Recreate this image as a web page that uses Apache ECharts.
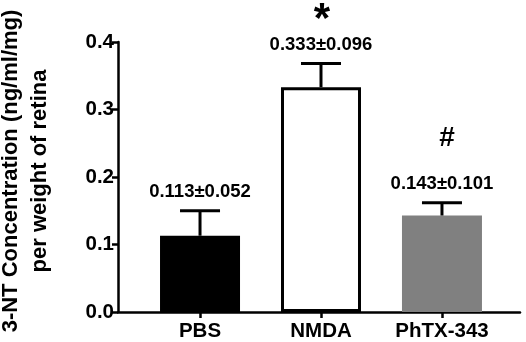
<!DOCTYPE html>
<html>
<head>
<meta charset="utf-8">
<script src="https://cdn.jsdelivr.net/npm/echarts@6/dist/echarts.min.js"></script>
<style>
  html, body { margin: 0; padding: 0; background: #fff; }
  #chart { width: 526px; height: 342px; }
</style>
</head>
<body>
<div id="chart"></div>
<script>
const groups = ['PBS', 'NMDA', 'PhTX-343'];
const means = [0.113, 0.333, 0.143];
const sds = [0.052, 0.096, 0.101];        // printed in the labels
const errBars = [0.037, 0.035, 0.019];    // drawn upper error bars
const sigMarks = ['', '*', '#'];
const barColors = ['#000000', '#ffffff', '#808080'];

const FONT = "'Liberation Sans', Arial, sans-serif";

const chart = echarts.init(document.getElementById('chart'));

const barData = means.map((m, i) => ({
  value: [i, m],
  itemStyle: i === 1
    ? { color: '#fff', borderColor: '#000', borderWidth: 3 }
    : { color: barColors[i] }
}));

const errData = means.map((m, i) => [i, m, errBars[i], sds[i]]);

// star sits high in its em box, hash is centred
const markStyle = {
  '*': { size: 42, dy: -43 },
  '#': { size: 28, dy: -64 }
};

const option = {
  animation: false,
  grid: { left: 118, right: 6, top: 42, bottom: 30, outerBoundsMode: 'none' },
  xAxis: {
    type: 'value',
    min: -0.678,
    max: 2.645,
    splitLine: { show: false },
    axisLine: { show: true, onZero: false, lineStyle: { color: '#000', width: 2.5 } },
    axisTick: { show: true, length: 6, lineStyle: { color: '#000', width: 2.5 }, customValues: [0, 1, 2] },
    axisLabel: {
      customValues: [0, 1, 2],
      formatter: v => groups[Math.round(v)],
      color: '#000', fontWeight: 'bold', fontSize: 20.5, fontFamily: FONT, margin: 9
    }
  },
  yAxis: {
    type: 'value',
    min: 0,
    max: 0.4,
    interval: 0.1,
    name: '3-NT Concentration (ng/ml/mg)\nper weight of retina',
    nameLocation: 'middle',
    nameRotate: 90,
    nameGap: 64,
    nameTextStyle: { color: '#000', fontWeight: 'bold', fontSize: 22, fontFamily: FONT, lineHeight: 29,
      padding: [0, 0, 0, 12] },
    splitLine: { show: false },
    axisLine: { show: true, onZero: false, lineStyle: { color: '#000', width: 2.5 } },
    axisTick: { show: true, length: 6, lineStyle: { color: '#000', width: 2.5 } },
    axisLabel: {
      formatter: v => v.toFixed(1),
      color: '#000', fontWeight: 'bold', fontSize: 20.5, fontFamily: FONT, margin: 4
    }
  },
  series: [
    {
      type: 'bar',
      barWidth: 80,
      data: barData,
      z: 2
    },
    {
      type: 'custom',
      data: errData,
      z: 3,
      renderItem: (params, api) => {
        const i = params.dataIndex;
        const x = api.value(0), m = api.value(1), e = api.value(2), sd = api.value(3);
        const base = api.coord([x, m]);
        const top = api.coord([x, m + e]);
        const half = 20;
        const children = [
          { type: 'line', shape: { x1: base[0], y1: base[1], x2: top[0], y2: top[1] },
            style: { stroke: '#000', lineWidth: 3 } },
          { type: 'line', shape: { x1: top[0] - half, y1: top[1], x2: top[0] + half, y2: top[1] },
            style: { stroke: '#000', lineWidth: 3 } },
          { type: 'text', x: top[0], y: top[1] - 19,
            style: { text: m.toFixed(3) + '±' + sd.toFixed(3), fill: '#000',
              font: 'bold 18.5px ' + FONT, align: 'center', verticalAlign: 'middle' } }
        ];
        const mark = sigMarks[i];
        if (mark) {
          const ms = markStyle[mark];
          children.push({ type: 'text', x: top[0] + (mark === '#' ? 5 : 1), y: top[1] + ms.dy,
            style: { text: mark, fill: '#000', font: 'bold ' + ms.size + 'px ' + FONT,
              align: 'center', verticalAlign: 'middle' } });
        }
        return { type: 'group', children };
      }
    }
  ]
};

chart.setOption(option);
</script>
</body>
</html>
